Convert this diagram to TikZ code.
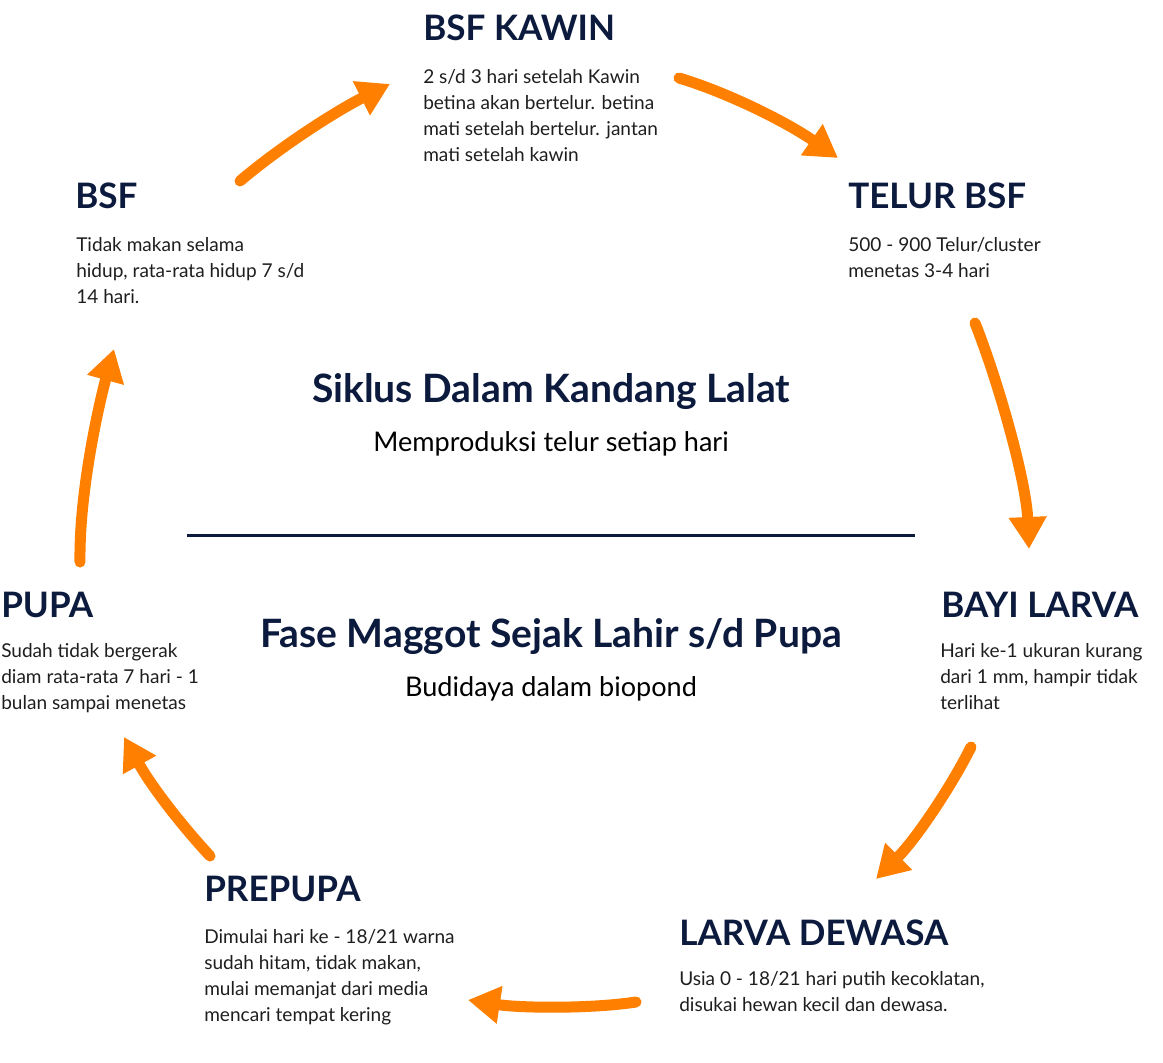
\documentclass[tikz,border=0pt]{standalone}
\usepackage{fontspec}
\setmainfont{Lato}
\usetikzlibrary{arrows.meta}

\definecolor{navy}{HTML}{0C1B3D}
\definecolor{tekst}{HTML}{1E1E1E}
\definecolor{oranje}{HTML}{FF8000}

\tikzset{
  kop/.style={anchor=base west, inner sep=0pt, text=navy,
    font=\fontsize{26.3}{32}\selectfont\bfseries},
  % anker = basislijn van de laatste regel
  uitleg/.style={anchor=base west, inner sep=0pt, align=left, text=tekst,
    font=\fontsize{14.3}{19.5}\selectfont},
  titel/.style={anchor=base, inner sep=0pt, text=navy,
    font=\fontsize{29.3}{34}\selectfont\bfseries},
  subtitel/.style={anchor=base, inner sep=0pt, text=black,
    font=\fontsize{20.3}{24}\selectfont},
  pijl/.style={oranje, line width=8.25pt, line cap=round,
    -{Triangle[length=24pt,width=27pt]}}
}

\begin{document}
\begin{tikzpicture}[x=0.75pt, y=-0.75pt]
\useasboundingbox (0,0) rectangle (1163,1063);

% Fasen rond de cyclus
\node[kop] (kawin) at (423,41) {BSF KAWIN};
\node[uitleg] (kawinTxt) at (423,161)
    {2 s/d 3 hari setelah Kawin\\betina akan bertelur. betina\\mati setelah bertelur. jantan\\mati setelah kawin};

\node[kop] (telur) at (848,208) {TELUR BSF};
\node[uitleg] (telurTxt) at (848,277)
    {500 - 900 Telur/cluster\\menetas 3-4 hari};

\node[kop] (bsf) at (75,208) {BSF};
\node[uitleg] (bsfTxt) at (76,303)
    {Tidak makan selama\\hidup, rata-rata hidup 7 s/d\\14 hari.};

\node[kop] (bayi) at (941,617) {BAYI LARVA};
\node[uitleg] (bayiTxt) at (940,709)
    {Hari ke-1 ukuran kurang\\dari 1 mm, hampir tidak\\terlihat};

\node[kop] (pupa) at (1,617) {PUPA};
\node[uitleg] (pupaTxt) at (1,709)
    {Sudah tidak bergerak\\diam rata-rata 7 hari - 1\\bulan sampai menetas};

\node[kop] (prepupa) at (204,901) {PREPUPA};
\node[uitleg] (prepupaTxt) at (204,1021)
    {Dimulai hari ke - 18/21 warna\\sudah hitam, tidak makan,\\mulai memanjat dari media\\mencari tempat kering};

\node[kop] (dewasa) at (679,945) {LARVA DEWASA};
\node[uitleg] (dewasaTxt) at (679,1011)
    {Usia 0 - 18/21 hari putih kecoklatan,\\disukai hewan kecil dan dewasa.};

% Titels in het midden
\node[titel] (kandang) at (551,402) {Siklus Dalam Kandang Lalat};
\node[subtitel] (kandangSub) at (551,451) {Memproduksi telur setiap hari};

\draw[navy, line width=2.25pt] (187,535) -- (915,535);

\node[titel] (maggot) at (551,647) {Fase Maggot Sejak Lahir s/d Pupa};
\node[subtitel] (maggotSub) at (551,696) {Budidaya dalam biopond};

% Begin- en eindpunten van de pijlen
\coordinate (a1) at (240,181);  \coordinate (b1) at (390,84);
\coordinate (a2) at (679,78);   \coordinate (b2) at (838,158);
\coordinate (a3) at (975,323);  \coordinate (b3) at (1029,549);
\coordinate (a4) at (971,747);  \coordinate (b4) at (876,879);
\coordinate (a5) at (636,1002); \coordinate (b5) at (468,1000);
\coordinate (a6) at (210,856);  \coordinate (b6) at (124,737);
\coordinate (a7) at (80,562);   \coordinate (b7) at (114,349);

% Pijlen van de cyclus
\draw[pijl] (a1) .. controls (285,143) and (340,109) .. (b1);
\draw[pijl] (a2) .. controls (729,93) and (788,123) .. (b2);
\draw[pijl] (a3) .. controls (997,378) and (1026,479) .. (b3);
\draw[pijl] (a4) .. controls (951,787) and (916,839) .. (b4);
\draw[pijl] (a5) .. controls (590,1009) and (520,1008) .. (b5);
\draw[pijl] (a6) .. controls (175,818) and (149,782) .. (b6);
\draw[pijl] (a7) .. controls (79,490) and (100,400) .. (b7);
\end{tikzpicture}
\end{document}
